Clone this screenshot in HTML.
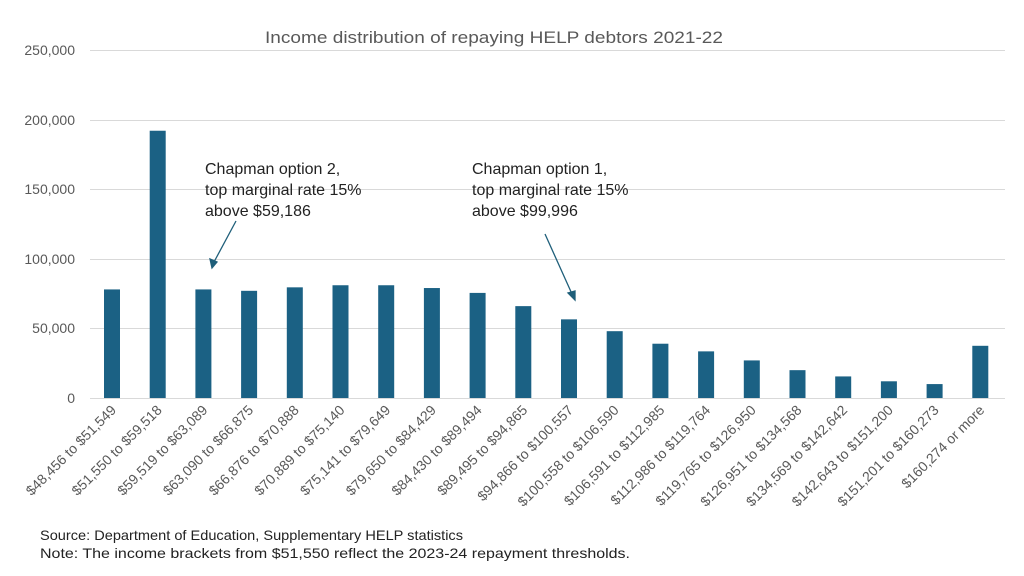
<!DOCTYPE html>
<html><head><meta charset="utf-8"><style>
body{margin:0;background:#fff;}
svg{display:block;font-family:"Liberation Sans",sans-serif;}
</style></head><body>
<svg width="1024" height="576" viewBox="0 0 1024 576">
<text x="494" y="43" text-anchor="middle" font-size="17" fill="#595959" textLength="458" lengthAdjust="spacingAndGlyphs">Income distribution of repaying HELP debtors 2021-22</text>
<g stroke="#d9d9d9" stroke-width="1">
<line x1="90" x2="1005" y1="50.5" y2="50.5"/><line x1="90" x2="1005" y1="120.5" y2="120.5"/><line x1="90" x2="1005" y1="189.5" y2="189.5"/><line x1="90" x2="1005" y1="259.5" y2="259.5"/><line x1="90" x2="1005" y1="328.5" y2="328.5"/><line x1="90" x2="1005" y1="398.5" y2="398.5"/>
</g>
<g font-size="14" fill="#595959" text-anchor="end">
<text x="75" y="55">250,000</text><text x="75" y="125">200,000</text><text x="75" y="194">150,000</text><text x="75" y="264">100,000</text><text x="75" y="333">50,000</text><text x="75" y="403">0</text>
</g>
<g id="bars" fill="#1b6184"></g>
<g id="labels" font-size="14" fill="#595959" text-anchor="end"></g>
<g font-size="16" fill="#222">
<text x="205" y="174">Chapman option 2,</text><text x="205" y="195">top marginal rate 15%</text><text x="205" y="216">above $59,186</text>
<text x="472" y="174">Chapman option 1,</text><text x="472" y="195">top marginal rate 15%</text><text x="472" y="216">above $99,996</text>
</g>
<g stroke="#1f5f7a" stroke-width="1.3" fill="#1f5f7a">
<line x1="236" y1="221" x2="214" y2="262"/><polygon points="212,268 210,259 217,262"/>
<line x1="545" y1="234" x2="572" y2="294"/><polygon points="575,300 568,293 575,291"/>
</g>
<g font-size="14" fill="#222">
<text x="40" y="540" textLength="423" lengthAdjust="spacingAndGlyphs">Source: Department of Education, Supplementary HELP statistics</text>
<text x="40" y="558" textLength="590" lengthAdjust="spacingAndGlyphs">Note: The income brackets from $51,550 reflect the 2023-24 repayment thresholds.</text>
</g>
</svg>
<script>
var v=[78000,192000,78000,77000,79500,81000,81000,79000,75500,66000,56500,48000,39000,33500,27000,20000,15500,12000,10000,37500];
var l=["$48,456 to $51,549","$51,550 to $59,518","$59,519 to $63,089","$63,090 to $66,875","$66,876 to $70,888","$70,889 to $75,140","$75,141 to $79,649","$79,650 to $84,429","$84,430 to $89,494","$89,495 to $94,865","$94,866 to $100,557","$100,558 to $106,590","$106,591 to $112,985","$112,986 to $119,764","$119,765 to $126,950","$126,951 to $134,568","$134,569 to $142,642","$142,643 to $151,200","$151,201 to $160,273","$160,274 or more"];
var ns="http://www.w3.org/2000/svg",b=document.getElementById("bars"),t=document.getElementById("labels");
for(var i=0;i<20;i++){var cx=112+i*45.7,h=v[i]/250000*348;
var r=document.createElementNS(ns,"rect");r.setAttribute("x",cx-8);r.setAttribute("y",398-h);r.setAttribute("width",16);r.setAttribute("height",h);b.appendChild(r);
var x=document.createElementNS(ns,"text");x.setAttribute("transform","translate("+(cx+5)+",411) rotate(-45)");x.textContent=l[i];t.appendChild(x);}
</script>
</body></html>
